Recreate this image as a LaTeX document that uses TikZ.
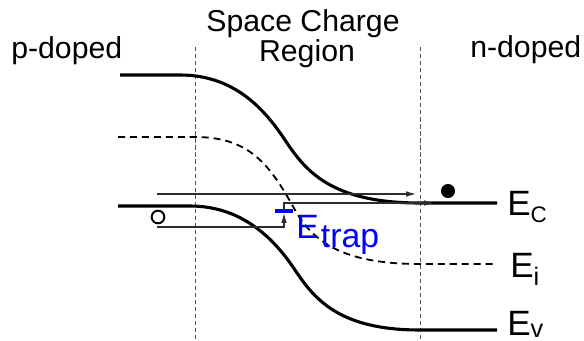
\documentclass[tikz,border=0pt]{standalone}
\usepackage{fontspec}
\setmainfont{Liberation Sans}
\usetikzlibrary{arrows.meta}
\definecolor{guidegray}{RGB}{85,85,85}
\definecolor{transfergray}{RGB}{45,45,45}
\definecolor{trapblue}{RGB}{0,0,255}
\tikzset{
  band/.style={draw=black,line width=2.2pt},
  intrinsic/.style={draw=black,line width=1.3pt,dash pattern=on 5pt off 3.5pt},
  guide/.style={draw=guidegray,line width=0.6pt,dash pattern=on 3pt off 2pt},
  transfer/.style={draw=transfergray,line width=0.8pt,-{Latex[length=7pt,width=4pt]}},
  regionlabel/.style={anchor=base,inner sep=0pt,font=\fontsize{21.5}{21.5}\selectfont},
  levellabel/.style={anchor=base west,inner sep=0pt,font=\fontsize{25}{25}\selectfont},
  trapbar/.style={fill=trapblue,inner sep=0pt,minimum width=13pt,minimum height=2.4pt},
  hole/.style={circle,draw=black,line width=1.4pt,fill=white,inner sep=0pt,minimum size=9pt},
  electron/.style={circle,fill=black,inner sep=0pt,minimum size=10pt}
}

\begin{document}
\begin{tikzpicture}[x=0.025cm,y=-0.025cm]
  \useasboundingbox[fill=white] (0,0) rectangle (584,341);

  % region labels
  \node[regionlabel,anchor=base west] (pside) at (11,59) {p-doped};
  \node[regionlabel] (space) at (303,32) {Space Charge};
  \node[regionlabel] (region) at (307,62) {Region};
  \node[regionlabel,anchor=base west] (nside) at (470,58) {n-doped};

  % borders of the space charge region
  \coordinate (lefttop) at (195,47);
  \coordinate (leftbot) at (195,341);
  \coordinate (righttop) at (420,47);
  \coordinate (rightbot) at (420,341);
  \draw[guide] (lefttop) -- (leftbot);
  \draw[guide] (righttop) -- (rightbot);

  % bands
  \draw[band] (120,75) -- (180,75) .. controls (235,75) and (265,110) .. (285,140)
    .. controls (305,170) and (330,203) .. (420,203) -- (497,203);
  \draw[intrinsic] (118,137) -- (195,137) .. controls (250,137) and (270,165) .. (295,210)
    .. controls (315,246) and (350,264) .. (420,264) -- (497,264);
  \draw[band] (118,206) -- (190,206) .. controls (243,206) and (275,240) .. (295,270)
    .. controls (315,300) and (340,330) .. (420,330) -- (497,330);

  % level labels
  \node[levellabel] (ec) at (507,215) {E\raisebox{-5pt}{\fontsize{16}{16}\selectfont C}};
  \node[levellabel] (ei) at (510,277) {E\raisebox{-6pt}{\fontsize{18}{18}\selectfont i}};
  \node[levellabel] (ev) at (507,335) {E\raisebox{-1.5pt}{\fontsize{18}{18}\selectfont v}};

  % carriers and trap
  \node[hole] (h) at (158,217) {};
  \node[electron] (e) at (448,191) {};
  \node[trapbar] (trap) at (284,211) {};
  \node[levellabel,text=trapblue,font=\fontsize{24}{24}\selectfont] (etrap) at (296,238)
    {E\kern1.5pt\raisebox{-7pt}{trap}};

  % transitions
  \coordinate (directstart) at (157,194);
  \coordinate (directend) at (416,194);
  \coordinate (capturestart) at (157,227);
  \coordinate (emitend) at (434,203);
  \draw[transfer] (directstart) -- (directend);
  \draw[transfer] (capturestart) -| (trap.south);
  \draw[transfer] (trap.north) |- (emitend);
\end{tikzpicture}
\end{document}
